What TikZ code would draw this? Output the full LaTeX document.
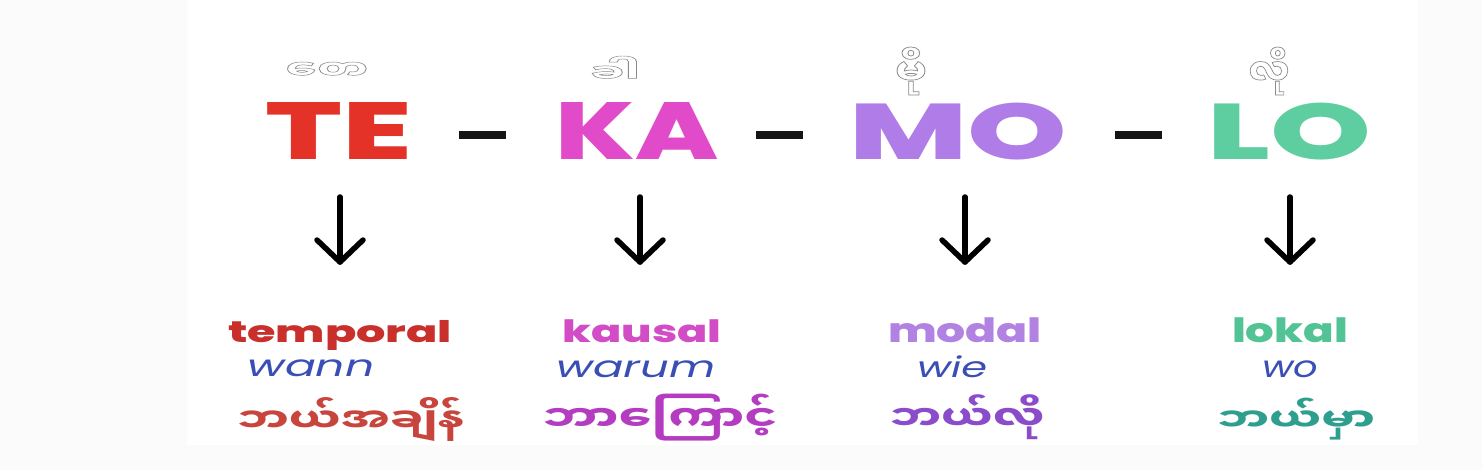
\documentclass[tikz,border=0pt]{standalone}
\usepackage{fontspec}
\usepackage{graphicx}
\setmainfont{Poppins}
\newfontfamily\popx{Poppins ExtraBold}
\newfontfamily\mya[Script=Myanmar]{Noto Sans Myanmar UI}
\definecolor{bgout}{HTML}{FBFBFB}
\definecolor{cTE}{HTML}{E43228}
\definecolor{cKA}{HTML}{E14BC9}
\definecolor{cMO}{HTML}{B07CE8}
\definecolor{cLO}{HTML}{5ECEA0}
\definecolor{lTE}{HTML}{C9302C}
\definecolor{lKA}{HTML}{D24CC6}
\definecolor{lMO}{HTML}{B282E2}
\definecolor{lLO}{HTML}{52C394}
\definecolor{qblue}{HTML}{3A4FB5}
\definecolor{mTE}{HTML}{C8453E}
\definecolor{mKA}{HTML}{B43CC0}
\definecolor{mMO}{HTML}{8A4CCB}
\definecolor{mLO}{HTML}{2E9E8E}
\definecolor{outl}{HTML}{8A8A8A}
\newcommand{\fitto}[3]{\resizebox*{#1pt}{#2pt}{#3}}
\newcommand{\hollow}[1]{\special{pdf:literal direct 1 Tr 0.5 w}#1\special{pdf:literal direct 0 Tr}}
\newcommand{\bigf}{\popx\fontsize{80}{80}\selectfont}
\newcommand{\labf}{\popx\fontsize{32}{32}\selectfont}
\newcommand{\qf}{\itshape\fontsize{26}{26}\selectfont}
\newcommand{\myf}{\mya\bfseries\fontsize{30}{30}\selectfont}
\newcommand{\mysmall}{\mya\bfseries\fontsize{26}{26}\selectfont}
\tikzset{
  txt/.style={inner sep=0pt, outer sep=0pt},
  hyph/.style={inner sep=0pt, minimum width=47pt, minimum height=8pt, fill=black!92, draw=none},
  arr/.style={line width=5.5pt, line cap=round, line join=round, black},
}
\begin{document}
\begin{tikzpicture}[x=1pt,y=-1pt]
\useasboundingbox (0,0) rectangle (1482,470);
\fill[bgout] (0,0) rectangle (1482,470);
\fill[white] (187,0) rectangle (1418,445);
% small Burmese syllables
\node[txt, text=outl] (ste) at (327,70.5) {\fitto{83}{17}{\mysmall\hollow{တေ}}};
\node[txt, text=outl] (ska) at (615,69) {\fitto{50}{26}{\mysmall\hollow{ခါ}}};
\node[txt, text=outl] (smo) at (911,71) {\fitto{32}{48}{\mysmall\hollow{မို}}};
\node[txt, text=outl] (slo) at (1269,71) {\fitto{41}{48}{\mysmall\hollow{လို}}};
% big letters
\node[txt, text=cTE] (te) at (338.5,131.5) {\fitto{147}{57}{\bigf TE}};
\node[txt, text=cKA] (ka) at (637,131.5) {\fitto{163}{57}{\bigf KA}};
\node[txt, text=cMO] (mo) at (958,131.5) {\fitto{218}{57}{\bigf MO}};
\node[txt, text=cLO] (lo) at (1289,131.5) {\fitto{164}{57}{\bigf LO}};
% hyphens
\node[hyph] (h1) at (482,135) {};
\node[hyph] (h2) at (779,135) {};
\node[hyph] (h3) at (1138,135) {};
% arrows
\foreach \n/\x in {1/340,2/640,3/965,4/1290}{
  \coordinate (a\n s) at (\x,197);
  \coordinate (a\n e) at (\x,262);
  \draw[arr] (a\n s) -- (a\n e);
  \draw[arr] (a\n e) ++(-23,-22) -- (a\n e) -- ++(23,-22);
}
% labels
\node[txt, text=lTE] (lt) at (340,335) {\fitto{224}{30}{\labf temporal}};
\node[txt, text=lKA] (lk) at (642,331.5) {\fitto{159}{23}{\labf kausal}};
\node[txt, text=lMO] (lm) at (965,330.5) {\fitto{154}{25}{\labf modal}};
\node[txt, text=lLO] (ll) at (1290,330.5) {\fitto{116}{25}{\labf lokal}};
% questions
\node[txt, text=qblue] (qt) at (311,368) {\fitto{127}{17}{\qf wann}};
\node[txt, text=qblue] (qk) at (636,369) {\fitto{159}{17}{\qf warum}};
\node[txt, text=qblue] (qm) at (952,367) {\fitto{70}{22}{\qf wie}};
\node[txt, text=qblue] (ql) at (1290,369) {\fitto{56}{17}{\qf wo}};
% Burmese questions
\node[txt, text=mTE] (bt) at (351,420) {\fitto{228}{44}{\myf ဘယ်အချိန်}};
\node[txt, text=mKA] (bk) at (660,418) {\fitto{235}{47}{\myf ဘာကြောင့်}};
\node[txt, text=mMO] (bm) at (967,417) {\fitto{155}{45}{\myf ဘယ်လို}};
\node[txt, text=mLO] (bl) at (1296,419) {\fitto{158}{42}{\myf ဘယ်မှာ}};
\end{tikzpicture}
\end{document}
